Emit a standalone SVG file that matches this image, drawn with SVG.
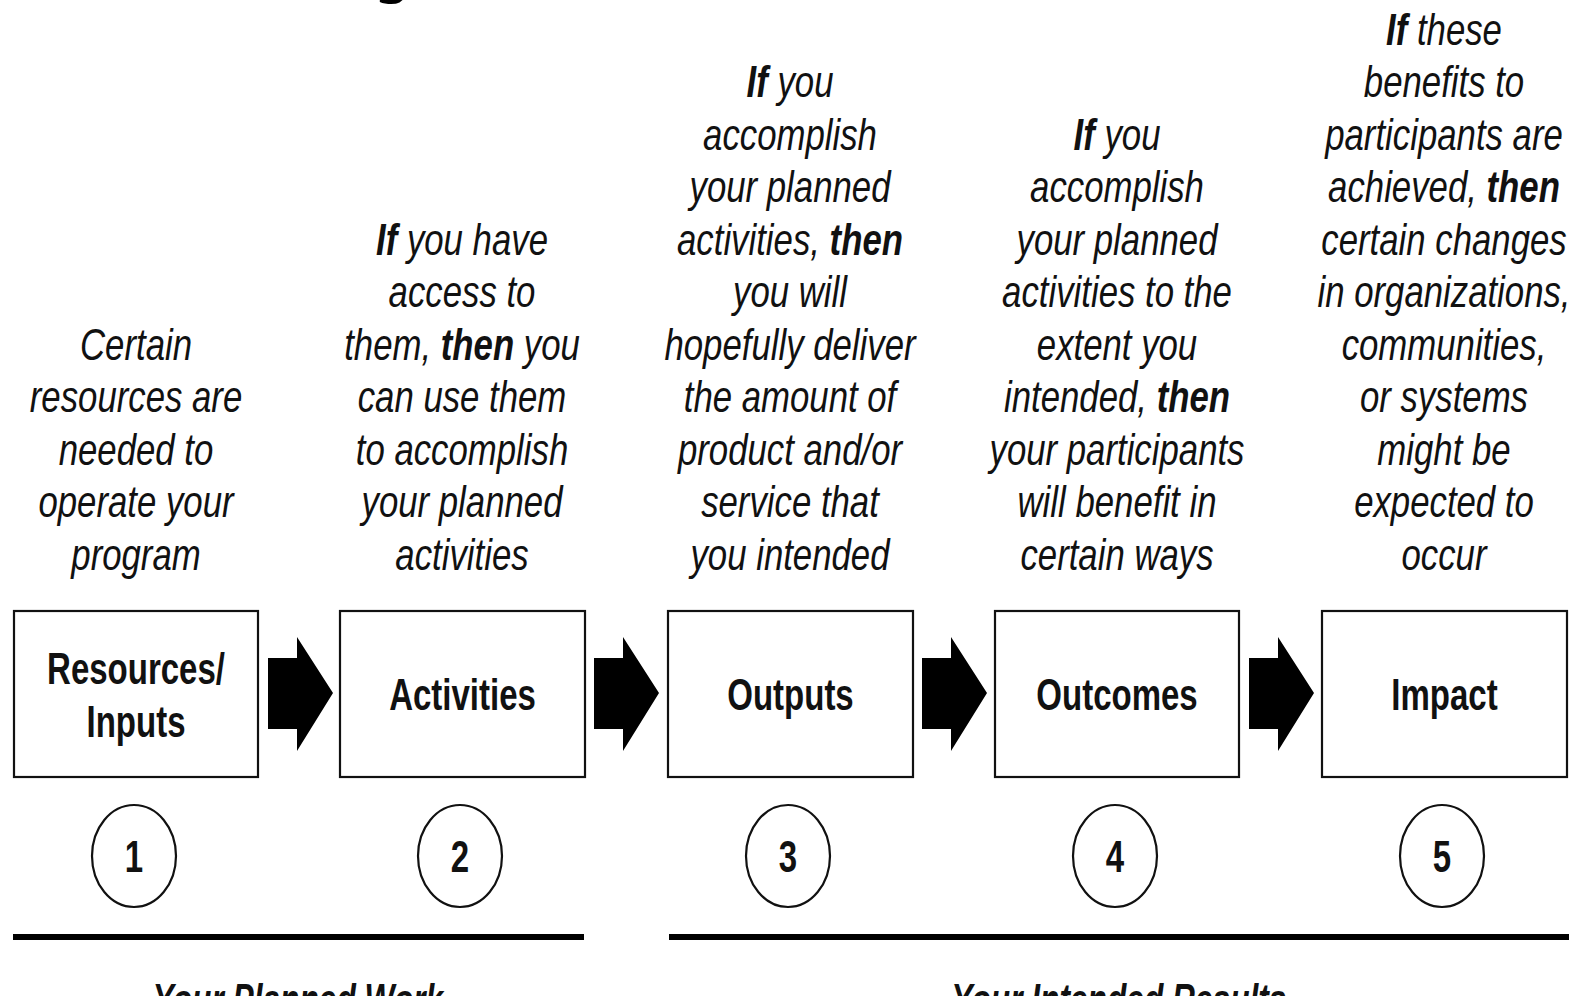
<svg xmlns="http://www.w3.org/2000/svg" width="1579" height="996" viewBox="0 0 1579 996">
<style>
.cap{font-family:"Liberation Sans",Arial,sans-serif;font-style:italic;font-size:44px;fill:#111;text-anchor:middle}
.b{font-weight:bold}
.lbl{font-family:"Liberation Sans",Arial,sans-serif;font-weight:bold;font-size:44px;fill:#111;text-anchor:middle}
.box{fill:#fff;stroke:#111;stroke-width:2.2}
.circ{fill:#fff;stroke:#111;stroke-width:2.2}
.arr{fill:#000}
.bar{fill:#000}
.ttl{font-family:"Noto Sans","Open Sans",sans-serif;font-size:60px;fill:#000}
</style>
<rect width="1579" height="996" fill="#fff"/>
<text class="ttl" x="374" y="-10">g</text>

<g id="col1" transform="translate(136,0) scale(0.79,1)">
<text class="cap" x="0" y="360">Certain</text>
<text class="cap" x="0" y="412.5">resources are</text>
<text class="cap" x="0" y="465">needed to</text>
<text class="cap" x="0" y="517.5">operate your</text>
<text class="cap" x="0" y="570">program</text>
</g>
<g id="col2" transform="translate(462,0) scale(0.79,1)">
<text class="cap" x="0" y="255"><tspan class="b">If</tspan> you have</text>
<text class="cap" x="0" y="307.5">access to</text>
<text class="cap" x="0" y="360">them, <tspan class="b">then</tspan> you</text>
<text class="cap" x="0" y="412.5">can use them</text>
<text class="cap" x="0" y="465">to accomplish</text>
<text class="cap" x="0" y="517.5">your planned</text>
<text class="cap" x="0" y="570">activities</text>
</g>
<g id="col3" transform="translate(790,0) scale(0.79,1)">
<text class="cap" x="0" y="97.5"><tspan class="b">If</tspan> you</text>
<text class="cap" x="0" y="150">accomplish</text>
<text class="cap" x="0" y="202.5">your planned</text>
<text class="cap" x="0" y="255">activities, <tspan class="b">then</tspan></text>
<text class="cap" x="0" y="307.5">you will</text>
<text class="cap" x="0" y="360">hopefully deliver</text>
<text class="cap" x="0" y="412.5">the amount of</text>
<text class="cap" x="0" y="465">product and/or</text>
<text class="cap" x="0" y="517.5">service that</text>
<text class="cap" x="0" y="570">you intended</text>
</g>
<g id="col4" transform="translate(1117,0) scale(0.79,1)">
<text class="cap" x="0" y="150"><tspan class="b">If</tspan> you</text>
<text class="cap" x="0" y="202.5">accomplish</text>
<text class="cap" x="0" y="255">your planned</text>
<text class="cap" x="0" y="307.5">activities to the</text>
<text class="cap" x="0" y="360">extent you</text>
<text class="cap" x="0" y="412.5">intended, <tspan class="b">then</tspan></text>
<text class="cap" x="0" y="465">your participants</text>
<text class="cap" x="0" y="517.5">will benefit in</text>
<text class="cap" x="0" y="570">certain ways</text>
</g>
<g id="col5" transform="translate(1444,0) scale(0.79,1)">
<text class="cap" x="0" y="45"><tspan class="b">If</tspan> these</text>
<text class="cap" x="0" y="97.5">benefits to</text>
<text class="cap" x="0" y="150">participants are</text>
<text class="cap" x="0" y="202.5">achieved, <tspan class="b">then</tspan></text>
<text class="cap" x="0" y="255">certain changes</text>
<text class="cap" x="0" y="307.5">in organizations,</text>
<text class="cap" x="0" y="360">communities,</text>
<text class="cap" x="0" y="412.5">or systems</text>
<text class="cap" x="0" y="465">might be</text>
<text class="cap" x="0" y="517.5">expected to</text>
<text class="cap" x="0" y="570">occur</text>
</g>

<g id="node1">
<rect class="box" x="14" y="611" width="244" height="166"/>
<g transform="translate(136,0) scale(0.75,1)">
<text class="lbl" x="0" y="684">Resources/</text>
<text class="lbl" x="0" y="737">Inputs</text>
</g>
</g>
<g id="node2">
<rect class="box" x="340" y="611" width="245" height="166"/>
<text class="lbl" transform="translate(462.5,710) scale(0.75,1)">Activities</text>
</g>
<g id="node3">
<rect class="box" x="668" y="611" width="245" height="166"/>
<text class="lbl" transform="translate(790.5,710) scale(0.75,1)">Outputs</text>
</g>
<g id="node4">
<rect class="box" x="995" y="611" width="244" height="166"/>
<text class="lbl" transform="translate(1117,710) scale(0.75,1)">Outcomes</text>
</g>
<g id="node5">
<rect class="box" x="1322" y="611" width="245" height="166"/>
<text class="lbl" transform="translate(1444.5,710) scale(0.75,1)">Impact</text>
</g>

<g id="connectors">
<path class="arr" d="M268,658 H297 V637 L333,693 L297,751 V729 H268 Z"/>
<path class="arr" transform="translate(326,0)" d="M268,658 H297 V637 L333,693 L297,751 V729 H268 Z"/>
<path class="arr" transform="translate(654,0)" d="M268,658 H297 V637 L333,693 L297,751 V729 H268 Z"/>
<path class="arr" transform="translate(981,0)" d="M268,658 H297 V637 L333,693 L297,751 V729 H268 Z"/>
</g>

<g id="num1"><ellipse class="circ" cx="134" cy="856" rx="42" ry="51"/><text class="lbl" transform="translate(134,872) scale(0.75,1)">1</text></g>
<g id="num2"><ellipse class="circ" cx="460" cy="856" rx="42" ry="51"/><text class="lbl" transform="translate(460,872) scale(0.75,1)">2</text></g>
<g id="num3"><ellipse class="circ" cx="788" cy="856" rx="42" ry="51"/><text class="lbl" transform="translate(788,872) scale(0.75,1)">3</text></g>
<g id="num4"><ellipse class="circ" cx="1115" cy="856" rx="42" ry="51"/><text class="lbl" transform="translate(1115,872) scale(0.75,1)">4</text></g>
<g id="num5"><ellipse class="circ" cx="1442" cy="856" rx="42" ry="51"/><text class="lbl" transform="translate(1442,872) scale(0.75,1)">5</text></g>

<g id="planned">
<rect class="bar" x="13" y="934" width="571" height="6"/>
<text class="lbl" font-style="italic" transform="translate(298,1015) scale(0.72,1)">Your Planned Work</text>
</g>
<g id="results">
<rect class="bar" x="669" y="934" width="900" height="6"/>
<text class="lbl" font-style="italic" transform="translate(1119,1015) scale(0.72,1)">Your Intended Results</text>
</g>
</svg>
